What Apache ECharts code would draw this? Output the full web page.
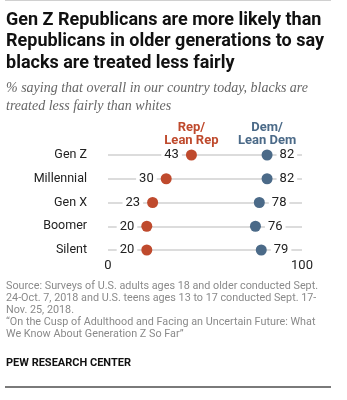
<!DOCTYPE html>
<html>
<head>
<meta charset="utf-8">
<script src="https://cdn.jsdelivr.net/npm/echarts@6/dist/echarts.min.js"></script>
<style>
  html, body { margin: 0; padding: 0; background: #fff; }
  #chart { width: 347px; height: 400px; }
</style>
</head>
<body>
<div id="chart"></div>
<script>
// Generations, top to bottom
const generations = ['Gen Z', 'Millennial', 'Gen X', 'Boomer', 'Silent'];
// % saying blacks are treated less fairly than whites
const repValues = [43, 30, 23, 20, 20];
const demValues = [82, 82, 78, 76, 79];
const axisTicks = [0, 100];

const REP = '#bf4a2d';
const DEM = '#4b6a88';
const SANS = 'Roboto, "Liberation Sans", Arial, sans-serif';

const chart = echarts.init(document.getElementById('chart'), null, { renderer: 'canvas' });

const titleLines = [
  'Gen Z Republicans are more likely than',
  'Republicans in older generations to say',
  'blacks are treated less fairly'
];
const subLines = [
  '% saying that overall in our country today, blacks are',
  'treated less fairly than whites'
];
const sourceLines = [
  'Source: Surveys of U.S. adults ages 18 and older conducted Sept.',
  '24-Oct. 7, 2018 and U.S. teens ages 13 to 17 conducted Sept. 17-',
  'Nov. 25, 2018.',
  '\u201COn the Cusp of Adulthood and Facing an Uncertain Future: What',
  'We Know About Generation Z So Far\u201D'
];

const graphics = [
  { type: 'line', shape: { x1: 5, y1: 0.5, x2: 331, y2: 0.5 }, style: { stroke: '#d0d0d0', lineWidth: 1 } },
  { type: 'line', shape: { x1: 5, y1: 387, x2: 331, y2: 387 }, style: { stroke: '#7a7a7a', lineWidth: 2 } },
  { type: 'text', left: 6, top: 358, style: { text: 'PEW RESEARCH CENTER', font: 'bold 11px ' + SANS, fill: '#111' } }
];
titleLines.forEach((t, i) => {
  graphics.push({ type: 'text', left: 6, top: 11 + i * 21.5, style: { text: t, font: 'bold 18px ' + SANS, fill: '#111' } });
});
subLines.forEach((t, i) => {
  graphics.push({ type: 'text', left: 6, top: 81 + i * 18, style: { text: t, font: 'italic 14px "Liberation Serif", serif', fill: '#666' } });
});
sourceLines.forEach((t, i) => {
  graphics.push({ type: 'text', left: 6, top: 281 + i * 12, style: { text: t, font: '10.8px ' + SANS, fill: '#8a8a8a' } });
});

const valueLabel = (pos) => ({
  show: true,
  position: pos,
  distance: 4,
  color: '#222',
  fontSize: 13,
  fontFamily: SANS,
  backgroundColor: '#fff',
  padding: [1, 3],
  formatter: p => p.value[0]
});

const legendLabel = (color) => ({
  show: true, position: 'top', distance: 2, formatter: '{a}',
  color: color, fontWeight: 'bold', fontSize: 13, lineHeight: 13, fontFamily: SANS, align: 'center'
});

chart.setOption({
  animation: false,
  graphic: graphics,
  grid: { left: 108, right: 45, top: 155, height: 95 },
  xAxis: {
    type: 'value', min: axisTicks[0], max: axisTicks[1], interval: axisTicks[1] - axisTicks[0],
    axisLine: { show: false }, axisTick: { show: false }, splitLine: { show: false },
    axisLabel: { color: '#222', fontSize: 13, fontFamily: SANS, margin: 9 }
  },
  yAxis: {
    type: 'category', data: generations, inverse: true, boundaryGap: false,
    axisLine: { show: false }, axisTick: { show: false },
    splitLine: { show: true, lineStyle: { color: '#dcdcdc', width: 2 } },
    axisLabel: { color: '#222', fontSize: 12.5, fontFamily: SANS, margin: 21 }
  },
  series: [
    {
      name: 'Rep/\nLean Rep', type: 'scatter', symbolSize: 11,
      itemStyle: { color: REP, opacity: 1 },
      data: generations.map((g, i) => [repValues[i], g]),
      label: valueLabel('left'),
      markPoint: {
        symbol: 'circle', symbolSize: 11, itemStyle: { color: 'rgba(0,0,0,0)' },
        label: legendLabel(REP),
        data: [{ coord: [repValues[0], generations[0]] }]
      }
    },
    {
      name: 'Dem/\nLean Dem', type: 'scatter', symbolSize: 11,
      itemStyle: { color: DEM, opacity: 1 },
      data: generations.map((g, i) => [demValues[i], g]),
      label: valueLabel('right'),
      markPoint: {
        symbol: 'circle', symbolSize: 11, itemStyle: { color: 'rgba(0,0,0,0)' },
        label: legendLabel(DEM),
        data: [{ coord: [demValues[0], generations[0]] }]
      }
    }
  ]
});
</script>
</body>
</html>
